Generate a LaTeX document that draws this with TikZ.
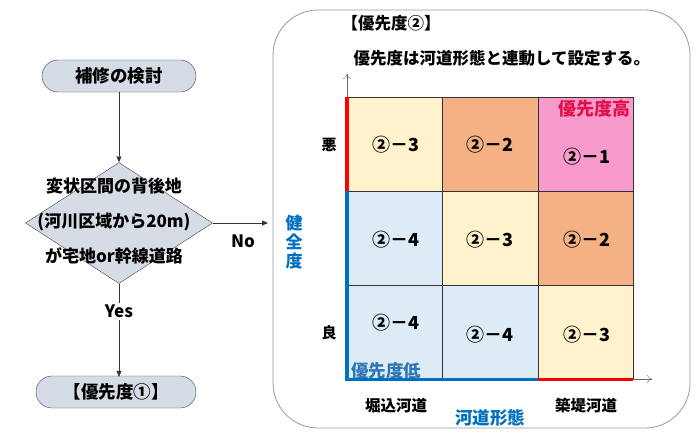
\documentclass[tikz,border=0pt]{standalone}
\usepackage{fontspec}
\setmainfont{Noto Sans CJK JP}
\usetikzlibrary{shapes.geometric,arrows.meta}
\definecolor{termfill}{HTML}{D6DCE5}
\definecolor{cyel}{HTML}{FFF2CC}
\definecolor{cora}{HTML}{F4B183}
\definecolor{cpink}{HTML}{F99ACD}
\definecolor{cblue}{HTML}{DDEBF7}
\definecolor{axblue}{HTML}{0070C0}
\definecolor{hired}{HTML}{E0104A}
\definecolor{lowblue}{HTML}{2E75B6}
\begin{document}
\begin{tikzpicture}[x=1pt,y=-1pt,
  term/.style={draw=black!75,fill=termfill,rectangle,rounded corners=16pt,minimum height=32pt,inner sep=0pt,font=\fontsize{17.5}{20}\selectfont\bfseries},
  decide/.style={draw=black!75,fill=termfill,diamond,minimum width=187pt,minimum height=121pt,inner sep=0pt},
  flow/.style={draw=black!80,-{Triangle[length=6pt,width=5pt]}},
  cell/.style={draw=black!80,minimum width=95.3pt,minimum height=94pt,inner sep=0pt,anchor=north west},
  lab/.style={font=\fontsize{18}{20}\selectfont\bfseries},
  axis/.style={draw=black!60,-{To[length=5pt,width=8pt]}},
  thick/.style={line width=3.5pt},
]
\useasboundingbox (0,0) rectangle (697,432);

% Flowchart
\node[term,minimum width=154pt] (start) at (119,76) {補修の検討};
\node[decide] (dec) at (119,223) {};
\node[align=center,font=\fontsize{17}{35}\selectfont\bfseries] (dectext) at (114,221) {変状区間の背後地\\(河川区域から20m)\\が宅地or幹線道路};
\node[term,minimum width=160pt] (p1) at (116,392) {【優先度①】};
\draw[flow] (start) -- (dec.north);
\draw[flow] (dec.south) -- node[pos=0.3,fill=white,font=\fontsize{17}{20}\selectfont\bfseries,inner sep=2pt] (yes) {Yes} ([yshift=-1pt]p1.north -| dec.south);
\coordinate (noend) at (268,223);
\draw[flow] (dec.east) -- (noend);
\node[font=\fontsize{17}{20}\selectfont\bfseries] (no) at (243,241) {No};

% Panel
\draw[black!40,line width=0.8pt,rounded corners=45pt] (273,10) rectangle (690,428);
\node[anchor=west,font=\fontsize{16.5}{20}\selectfont\bfseries] (title) at (338,23) {【優先度②】};
\node[anchor=west,font=\fontsize{16.5}{20}\selectfont\bfseries] (sub) at (350,58) {優先度は河道形態と連動して設定する。};

% Grid cells
\node[cell,fill=cyel] (c11) at (347,97) {};
\node[cell,fill=cora] (c12) at (442.3,97) {};
\node[cell,fill=cpink] (c13) at (537.6,97) {};
\node[cell,fill=cblue] (c21) at (347,191) {};
\node[cell,fill=cyel] (c22) at (442.3,191) {};
\node[cell,fill=cora] (c23) at (537.6,191) {};
\node[cell,fill=cblue,minimum height=94pt] (c31) at (347,285) {};
\node[cell,fill=cblue,minimum height=94pt] (c32) at (442.3,285) {};
\node[cell,fill=cyel,minimum height=94pt] (c33) at (537.6,285) {};

\node[lab] (l11) at (396,145) {②－3};
\node[lab] (l12) at (490,145) {②－2};
\node[lab] (l13) at (587,157) {②－1};
\node[lab] (l21) at (396,240) {②－4};
\node[lab] (l22) at (490,240) {②－3};
\node[lab] (l23) at (587,240) {②－2};
\node[lab] (l31) at (396,323) {②－4};
\node[lab] (l32) at (490,335) {②－4};
\node[lab] (l33) at (587,335) {②－3};

\node[anchor=north east,text=hired,font=\fontsize{18}{20}\selectfont\bfseries,inner sep=1pt] (high) at (632,99) {優先度高};
\node[anchor=south west,text=lowblue,font=\fontsize{17.5}{20}\selectfont\bfseries,inner sep=1pt] (low) at (350,380) {優先度低};

% Axes
\coordinate (org) at (347,379);
\coordinate (ytop) at (347,74);
\coordinate (xend) at (652,379);
\draw[axis] (org) -- (ytop);
\draw[axis] (org) -- (xend);
\draw[thick,red] (c11.north west) -- (c11.south west);
\draw[thick,axblue] (c21.north west) -- (c31.south west) -- (c32.south east);
\draw[thick,red] (c33.south west) -- (c33.south east);

\node[font=\fontsize{15}{18}\selectfont\bfseries] (bad) at (329,145) {悪};
\node[font=\fontsize{15}{18}\selectfont\bfseries] (good) at (329,333) {良};
\node[text=axblue,align=center,font=\fontsize{17}{19}\selectfont\bfseries] (health) at (294,242) {健\\全\\度};
\node[font=\fontsize{15.5}{18}\selectfont\bfseries] (hori) at (396,406) {堀込河道};
\node[font=\fontsize{15.5}{18}\selectfont\bfseries] (chiku) at (586,406) {築堤河道};
\node[text=axblue,font=\fontsize{17.5}{20}\selectfont\bfseries] (form) at (490,418) {河道形態};
\end{tikzpicture}
\end{document}
